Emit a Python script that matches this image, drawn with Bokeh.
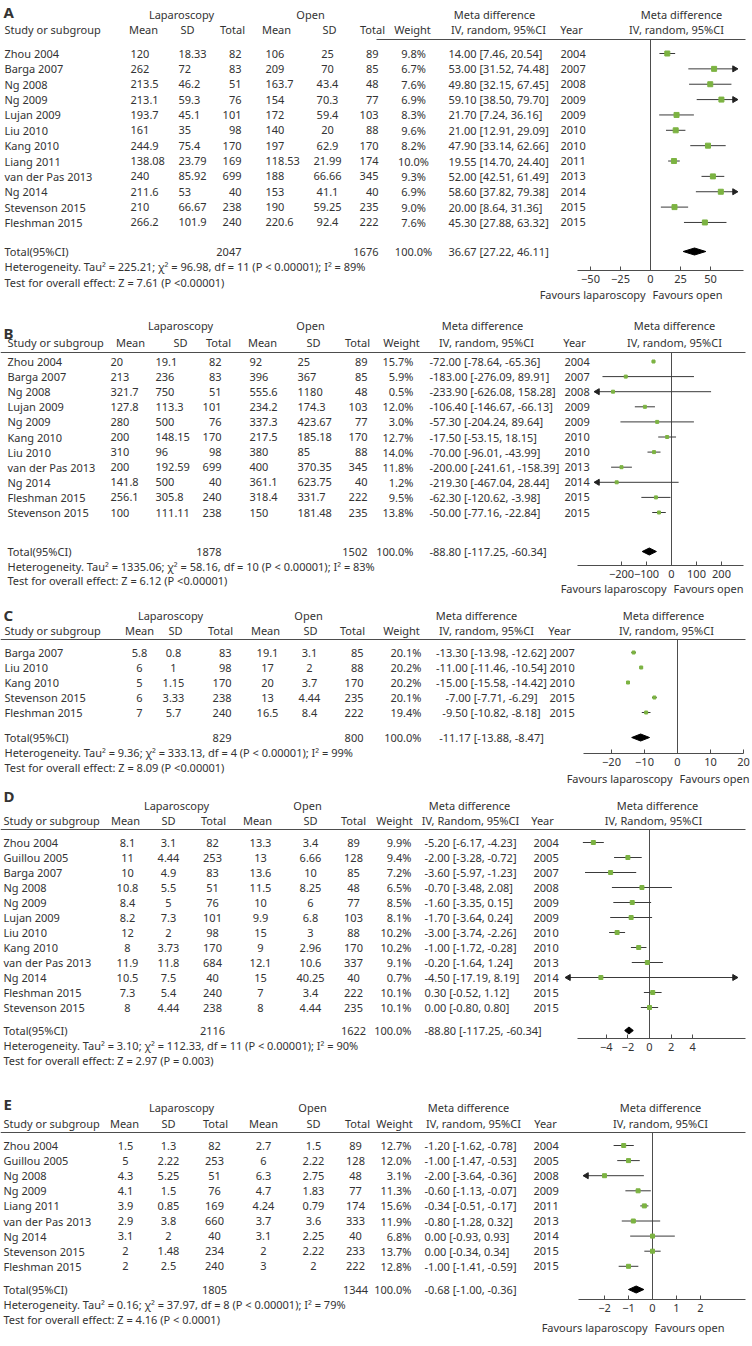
import math
from bokeh.plotting import figure
from bokeh.models import Range1d, LinearAxis, FixedTicker, ColumnDataSource
from bokeh.core.properties import value
from bokeh.embed import file_html
from bokeh.resources import INLINE

# ---------------- data ----------------
A_study = ["Zhou 2004", "Barga 2007", "Ng 2008", "Ng 2009", "Lujan 2009", "Liu 2010", "Kang 2010",
           "Liang 2011", "van der Pas 2013", "Ng 2014", "Stevenson 2015", "Fleshman 2015"]
A_lap_mean = [120, 262, 213.5, 213.1, 193.7, 161, 244.9, 138.08, 240, 211.6, 210, 266.2]
A_lap_sd = [18.33, 72, 46.2, 59.3, 45.1, 35, 75.4, 23.79, 85.92, 53, 66.67, 101.9]
A_lap_n = [82, 83, 51, 76, 101, 98, 170, 169, 699, 40, 238, 240]
A_open_mean = [106, 209, 163.7, 154, 172, 140, 197, 118.53, 188, 153, 190, 220.6]
A_open_sd = [25, 70, 43.4, 70.3, 59.4, 20, 62.9, 21.99, 66.66, 41.1, 59.25, 92.4]
A_open_n = [89, 85, 48, 77, 103, 88, 170, 174, 345, 40, 235, 222]
A_weight = [9.8, 6.7, 7.6, 6.9, 8.3, 9.6, 8.2, 10.0, 9.3, 6.9, 9.0, 7.6]
A_md = [14.00, 53.00, 49.80, 59.10, 21.70, 21.00, 47.90, 19.55, 52.00, 58.60, 20.00, 45.30]
A_lo = [7.46, 31.52, 32.15, 38.50, 7.24, 12.91, 33.14, 14.70, 42.51, 37.82, 8.64, 27.88]
A_hi = [20.54, 74.48, 67.45, 79.70, 36.16, 29.09, 62.66, 24.40, 61.49, 79.38, 31.36, 63.32]
A_year = [2004, 2007, 2008, 2009, 2009, 2010, 2010, 2011, 2013, 2014, 2015, 2015]
A_total_n = [2047, 1676]
A_overall = [36.67, 27.22, 46.11]
A_het = "Heterogeneity. Tau² = 225.21; χ² = 96.98, df = 11 (P < 0.00001); I² = 89%"
A_test = "Test for overall effect: Z = 7.61 (P <0.00001)"
A_ticks = [-50, -25, 0, 25, 50]

B_study = ["Zhou 2004", "Barga 2007", "Ng 2008", "Lujan 2009", "Ng 2009", "Kang 2010", "Liu 2010",
           "van der Pas 2013", "Ng 2014", "Fleshman 2015", "Stevenson 2015"]
B_lap_mean = [20, 213, 321.7, 127.8, 280, 200, 310, 200, 141.8, 256.1, 100]
B_lap_sd = [19.1, 236, 750, 113.3, 500, 148.15, 96, 192.59, 500, 305.8, 111.11]
B_lap_n = [82, 83, 51, 101, 76, 170, 98, 699, 40, 240, 238]
B_open_mean = [92, 396, 555.6, 234.2, 337.3, 217.5, 380, 400, 361.1, 318.4, 150]
B_open_sd = [25, 367, 1180, 174.3, 423.67, 185.18, 85, 370.35, 623.75, 331.7, 181.48]
B_open_n = [89, 85, 48, 103, 77, 170, 88, 345, 40, 222, 235]
B_weight = [15.7, 5.9, 0.5, 12.0, 3.0, 12.7, 14.0, 11.8, 1.2, 9.5, 13.8]
B_md = [-72.00, -183.00, -233.90, -106.40, -57.30, -17.50, -70.00, -200.00, -219.30, -62.30, -50.00]
B_lo = [-78.64, -276.09, -626.08, -146.67, -204.24, -53.15, -96.01, -241.61, -467.04, -120.62, -77.16]
B_hi = [-65.36, 89.91, 158.28, -66.13, 89.64, 18.15, -43.99, -158.39, 28.44, -3.98, -22.84]
B_year = [2004, 2007, 2008, 2009, 2009, 2010, 2010, 2013, 2014, 2015, 2015]
B_total_n = [1878, 1502]
B_overall = [-88.80, -117.25, -60.34]
B_het = "Heterogeneity. Tau² = 1335.06; χ² = 58.16, df = 10 (P < 0.00001); I² = 83%"
B_test = "Test for overall effect: Z = 6.12 (P <0.00001)"
B_ticks = [-200, -100, 0, 100, 200]

C_study = ["Barga 2007", "Liu 2010", "Kang 2010", "Stevenson 2015", "Fleshman 2015"]
C_lap_mean = [5.8, 6, 5, 6, 7]
C_lap_sd = [0.8, 1, 1.15, 3.33, 5.7]
C_lap_n = [83, 98, 170, 238, 240]
C_open_mean = [19.1, 17, 20, 13, 16.5]
C_open_sd = [3.1, 2, 3.7, 4.44, 8.4]
C_open_n = [85, 88, 170, 235, 222]
C_weight = [20.1, 20.2, 20.2, 20.1, 19.4]
C_md = [-13.30, -11.00, -15.00, -7.00, -9.50]
C_lo = [-13.98, -11.46, -15.58, -7.71, -10.82]
C_hi = [-12.62, -10.54, -14.42, -6.29, -8.18]
C_year = [2007, 2010, 2010, 2015, 2015]
C_total_n = [829, 800]
C_overall = [-11.17, -13.88, -8.47]
C_het = "Heterogeneity. Tau² = 9.36; χ² = 333.13, df = 4 (P < 0.00001); I² = 99%"
C_test = "Test for overall effect: Z = 8.09 (P <0.00001)"
C_ticks = [-20, -10, 0, 10, 20]

D_study = ["Zhou 2004", "Guillou 2005", "Barga 2007", "Ng 2008", "Ng 2009", "Lujan 2009", "Liu 2010",
           "Kang 2010", "van der Pas 2013", "Ng 2014", "Fleshman 2015", "Stevenson 2015"]
D_lap_mean = [8.1, 11, 10, 10.8, 8.4, 8.2, 12, 8, 11.9, 10.5, 7.3, 8]
D_lap_sd = [3.1, 4.44, 4.9, 5.5, 5, 7.3, 2, 3.73, 11.8, 7.5, 5.4, 4.44]
D_lap_n = [82, 253, 83, 51, 76, 101, 98, 170, 684, 40, 240, 238]
D_open_mean = [13.3, 13, 13.6, 11.5, 10, 9.9, 15, 9, 12.1, 15, 7, 8]
D_open_sd = [3.4, 6.66, 10, 8.25, 6, 6.8, 3, 2.96, 10.6, 40.25, 3.4, 4.44]
D_open_n = [89, 128, 85, 48, 77, 103, 88, 170, 337, 40, 222, 235]
D_weight = [9.9, 9.4, 7.2, 6.5, 8.5, 8.1, 10.2, 10.2, 9.1, 0.7, 10.1, 10.1]
D_md = [-5.20, -2.00, -3.60, -0.70, -1.60, -1.70, -3.00, -1.00, -0.20, -4.50, 0.30, 0.00]
D_lo = [-6.17, -3.28, -5.97, -3.48, -3.35, -3.64, -3.74, -1.72, -1.64, -17.19, -0.52, -0.80]
D_hi = [-4.23, -0.72, -1.23, 2.08, 0.15, 0.24, -2.26, -0.28, 1.24, 8.19, 1.12, 0.80]
D_year = [2004, 2005, 2007, 2008, 2009, 2009, 2010, 2010, 2013, 2014, 2015, 2015]
D_total_n = [2116, 1622]
D_overall_label = "-88.80 [-117.25, -60.34]"
D_overall = [-1.9, -2.3, -1.5]   # diamond as drawn in the picture
D_het = "Heterogeneity. Tau² = 3.10; χ² = 112.33, df = 11 (P < 0.00001); I² = 90%"
D_test = "Test for overall effect: Z = 2.97 (P = 0.003)"
D_ticks = [-4, -2, 0, 2, 4]

E_study = ["Zhou 2004", "Guillou 2005", "Ng 2008", "Ng 2009", "Liang 2011", "van der Pas 2013",
           "Ng 2014", "Stevenson 2015", "Fleshman 2015"]
E_lap_mean = [1.5, 5, 4.3, 4.1, 3.9, 2.9, 3.1, 2, 2]
E_lap_sd = [1.3, 2.22, 5.25, 1.5, 0.85, 3.8, 2, 1.48, 2.5]
E_lap_n = [82, 253, 51, 76, 169, 660, 40, 234, 240]
E_open_mean = [2.7, 6, 6.3, 4.7, 4.24, 3.7, 3.1, 2, 3]
E_open_sd = [1.5, 2.22, 2.75, 1.83, 0.79, 3.6, 2.25, 2.22, 2]
E_open_n = [89, 128, 48, 77, 174, 333, 40, 233, 222]
E_weight = [12.7, 12.0, 3.1, 11.3, 15.6, 11.9, 6.8, 13.7, 12.8]
E_md = [-1.20, -1.00, -2.00, -0.60, -0.34, -0.80, 0.00, 0.00, -1.00]
E_lo = [-1.62, -1.47, -3.64, -1.13, -0.51, -1.28, -0.93, -0.34, -1.41]
E_hi = [-0.78, -0.53, -0.36, -0.07, -0.17, 0.32, 0.93, 0.34, -0.59]
E_year = [2004, 2005, 2008, 2009, 2011, 2013, 2014, 2015, 2015]
E_total_n = [1805, 1344]
E_overall = [-0.68, -1.00, -0.36]
E_het = "Heterogeneity. Tau² = 0.16; χ² = 37.97, df = 8 (P < 0.00001); I² = 79%"
E_test = "Test for overall effect: Z = 4.16 (P < 0.0001)"
E_ticks = [-2, -1, 0, 1, 2]

DATA = {
    "A": dict(study=A_study, lm=A_lap_mean, ls=A_lap_sd, ln=A_lap_n, om=A_open_mean, os=A_open_sd, on=A_open_n,
              w=A_weight, md=A_md, lo=A_lo, hi=A_hi, year=A_year, tot=A_total_n, ov=A_overall, ovl=None,
              het=A_het, test=A_test, ticks=A_ticks, iv="IV, random, 95%CI"),
    "B": dict(study=B_study, lm=B_lap_mean, ls=B_lap_sd, ln=B_lap_n, om=B_open_mean, os=B_open_sd, on=B_open_n,
              w=B_weight, md=B_md, lo=B_lo, hi=B_hi, year=B_year, tot=B_total_n, ov=B_overall, ovl=None,
              het=B_het, test=B_test, ticks=B_ticks, iv="IV, random, 95%CI"),
    "C": dict(study=C_study, lm=C_lap_mean, ls=C_lap_sd, ln=C_lap_n, om=C_open_mean, os=C_open_sd, on=C_open_n,
              w=C_weight, md=C_md, lo=C_lo, hi=C_hi, year=C_year, tot=C_total_n, ov=C_overall, ovl=None,
              het=C_het, test=C_test, ticks=C_ticks, iv="IV, random, 95%CI"),
    "D": dict(study=D_study, lm=D_lap_mean, ls=D_lap_sd, ln=D_lap_n, om=D_open_mean, os=D_open_sd, on=D_open_n,
              w=D_weight, md=D_md, lo=D_lo, hi=D_hi, year=D_year, tot=D_total_n, ov=D_overall, ovl=D_overall_label,
              het=D_het, test=D_test, ticks=D_ticks, iv="IV, Random, 95%CI"),
    "E": dict(study=E_study, lm=E_lap_mean, ls=E_lap_sd, ln=E_lap_n, om=E_open_mean, os=E_open_sd, on=E_open_n,
              w=E_weight, md=E_md, lo=E_lo, hi=E_hi, year=E_year, tot=E_total_n, ov=E_overall, ovl=None,
              het=E_het, test=E_test, ticks=E_ticks, iv="IV, random, 95%CI"),
}

# ---------------- layout (reference pixel coordinates) ----------------
LAYOUT = {
    "A": dict(letter_y=11, h1_y=14, h2_y=29, line_y=39, line_x0=376, row0=53, dy=15.36, total_y=251,
              het_y=266, test_y=282, axis_y=270, fav_y=294, study_hdr="Study  or subgroup",
              cols=[(4, "left"), (130, "left"), (178, "left"), (241, "right"), (265, "left"), (327, "center"),
                    (378, "right"), (413, "center"), (448, "left"), (560, "left")],
              h1=[181, 310, 494, 681],
              h2=[143, 187, 232, 276, 329, 372, 412, 498, 571, 676],
              forest=(577, 743, 650, 1.2), tips=(585, 734), msize=5),
    "B": dict(letter_y=332, h1_y=325, h2_y=342, line_y=352, line_x0=0, row0=361, dy=15.1, total_y=551,
              het_y=566, test_y=580, axis_y=565, fav_y=588, study_hdr="Study or subgroup",
              cols=[(7, "left"), (110, "left"), (155, "left"), (221, "right"), (249, "left"), (297, "left"),
                    (367, "right"), (413, "right"), (429, "left"), (564, "left")],
              h1=[180, 310, 482, 674],
              h2=[130, 180, 218, 262, 313, 357, 401, 486, 574, 674],
              forest=(577, 743, 671, 0.25), tips=(597, 736), msize=3),
    "C": dict(letter_y=614, h1_y=615, h2_y=630, line_y=639, line_x0=0, row0=652, dy=15.0, total_y=737,
              het_y=752, test_y=767, axis_y=753, fav_y=778, study_hdr="Study  or subgroup",
              cols=[(4, "left"), (139, "center"), (173, "center"), (231, "right"), (267, "center"), (309, "center"),
                    (363, "right"), (421, "right"), (491, "center"), (549, "left")],
              h1=[170, 308, 476, 663],
              h2=[139, 175, 220, 265, 310, 352, 401, 486, 559, 666],
              forest=(583, 743, 677, 3.3), tips=(590, 736), msize=3),
    "D": dict(letter_y=795, h1_y=805, h2_y=820, line_y=829, line_x0=0, row0=842, dy=15.0, total_y=1030,
              het_y=1045, test_y=1060, axis_y=1038, fav_y=None, study_hdr="Study or subgroup",
              cols=[(3, "left"), (127, "center"), (168, "center"), (212, "center"), (260, "center"), (310, "center"),
                    (353, "center"), (411, "right"), (424, "left"), (533, "left")],
              h1=[176, 307, 469, 657],
              h2=[125, 168, 213, 257, 310, 353, 394, 470, 542, 653],
              forest=(577, 745, 649, 10.8), tips=(568, 734), msize=4),
    "E": dict(letter_y=1103, h1_y=1107, h2_y=1123, line_y=1132, line_x0=0, row0=1145, dy=15.1, total_y=1289,
              het_y=1304, test_y=1319, axis_y=1299, fav_y=1327, study_hdr="Study or subgroup",
              cols=[(3, "left"), (125, "center"), (168, "center"), (214, "center"), (263, "center"), (313, "center"),
                    (355, "center"), (411, "right"), (424, "left"), (533, "left")],
              h1=[181, 312, 468, 660],
              h2=[124, 168, 215, 263, 313, 357, 394, 473, 545, 660],
              forest=(578, 745, 652, 24.0), tips=(586, 735), msize=4),
}

FONT = "Noto Sans"
FS = "11px"
TXT = "#333333"
LINE = "#4d4d4d"
GREEN = "#7cb342"

W, H = 752, 1346
X0, X1 = 0, 752
Y0, Y1 = 0, 1346

p = figure(width=W, height=H, x_range=Range1d(X0, X1), y_range=Range1d(Y1, Y0),
           x_axis_type=None, y_axis_type=None, output_backend="svg", toolbar_location=None,
           min_border=0, outline_line_color=None, background_fill_color="white")

texts = {}


def T(x, y, s, align="left", size=FS, bold=False, rn="default"):
    d = texts.setdefault((align, size, bold, rn), dict(x=[], y=[], text=[]))
    d["x"].append(x)
    d["y"].append(y)
    d["text"].append(s)


ranges = {}
for key in ["A", "B", "C", "D", "E"]:
    a, b, zero, sc = LAYOUT[key]["forest"]
    ranges[key] = Range1d((X0 - zero) / sc, (X1 - zero) / sc)
p.extra_x_ranges = ranges

for key in ["A", "B", "C", "D", "E"]:
    L = LAYOUT[key]
    Dd = DATA[key]
    a, b, zero, sc = L["forest"]
    flo, fhi = (a - zero) / sc, (b - zero) / sc

    # headers
    T(3, L["letter_y"], key, size="15px", bold=True)
    for x, s in zip(L["h1"], ["Laparoscopy", "Open", "Meta difference", "Meta difference"]):
        T(x, L["h1_y"], s, align="center")
    T(L["cols"][0][0], L["h2_y"], L["study_hdr"])
    for x, s in zip(L["h2"], ["Mean", "SD", "Total", "Mean", "SD", "Total", "Weight", Dd["iv"], "Year", Dd["iv"]]):
        T(x, L["h2_y"], s, align="center")
    p.segment(x0=[L["line_x0"]], y0=[L["line_y"]], x1=[745], y1=[L["line_y"]], line_color=LINE, line_width=1)

    # rows
    n = len(Dd["study"])
    ys = [L["row0"] + i * L["dy"] for i in range(n)]
    for i in range(n):
        cells = [Dd["study"][i], str(Dd["lm"][i]), str(Dd["ls"][i]), str(Dd["ln"][i]), str(Dd["om"][i]),
                 str(Dd["os"][i]), str(Dd["on"][i]), f"{Dd['w'][i]:.1f}%",
                 f"{Dd['md'][i]:.2f} [{Dd['lo'][i]:.2f}, {Dd['hi'][i]:.2f}]", str(Dd["year"][i])]
        for (x, al), s in zip(L["cols"], cells):
            T(x, ys[i], s, align=al)

    # total row
    ty = L["total_y"]
    T(L["cols"][0][0], ty, "Total(95%CI)")
    T(L["cols"][3][0], ty, str(Dd["tot"][0]), align=L["cols"][3][1])
    T(L["cols"][6][0], ty, str(Dd["tot"][1]), align=L["cols"][6][1])
    T(L["cols"][7][0], ty, "100.0%", align=L["cols"][7][1])
    ov = Dd["ov"]
    ovl = Dd["ovl"] if Dd["ovl"] else f"{ov[0]:.2f} [{ov[1]:.2f}, {ov[2]:.2f}]"
    T(L["cols"][8][0], ty, ovl, align=L["cols"][8][1])
    T(L["cols"][0][0], L["het_y"], Dd["het"])
    T(L["cols"][0][0], L["test_y"], Dd["test"])

    # forest
    cl, ch = (L["tips"][0] - zero) / sc, (L["tips"][1] - zero) / sc
    x0s = [max(v, cl) for v in Dd["lo"]]
    x1s = [min(v, ch) for v in Dd["hi"]]
    p.segment(x0=[0], y0=[L["line_y"]], x1=[0], y1=[L["axis_y"]], line_color=LINE, line_width=1,
              x_range_name=key)
    p.segment(x0=x0s, y0=ys, x1=x1s, y1=ys, line_color="#3a3a3a", line_width=1, x_range_name=key)
    la = [(cl, y) for v, y in zip(Dd["lo"], ys) if v < cl]
    ra = [(ch, y) for v, y in zip(Dd["hi"], ys) if v > ch]
    if la:
        p.scatter(x=[q[0] for q in la], y=[q[1] for q in la], marker="triangle", size=6, angle=math.pi / 2,
                  fill_color="#222222", line_color="#222222", x_range_name=key)
    if ra:
        p.scatter(x=[q[0] for q in ra], y=[q[1] for q in ra], marker="triangle", size=6, angle=-math.pi / 2,
                  fill_color="#222222", line_color="#222222", x_range_name=key)
    p.scatter(x=Dd["md"], y=ys, marker="square", size=L["msize"], fill_color=GREEN, line_color=GREEN,
              x_range_name=key)
    p.patch(x=[ov[1], ov[0], ov[2], ov[0]], y=[ty, ty - 3.5, ty, ty + 3.5], fill_color="black",
            line_color="black", x_range_name=key)

    ax = LinearAxis(x_range_name=key, fixed_location=L["axis_y"], bounds=(flo, fhi),
                    ticker=FixedTicker(ticks=Dd["ticks"]), major_tick_in=4, major_tick_out=0,
                    minor_tick_line_color=None, axis_line_color=LINE, major_tick_line_color=LINE,
                    major_label_text_font=FONT, major_label_text_font_size=FS,
                    major_label_text_color=TXT, major_label_standoff=4)
    p.add_layout(ax, "below")

    if L["fav_y"] is not None:
        T(-5 / sc, L["fav_y"], "Favours laparoscopy", align="right", rn=key)
        T(2 / sc, L["fav_y"], "Favours open", align="left", rn=key)

for (al, size, bold, rn), d in texts.items():
    p.text(x="x", y="y", text="text", source=ColumnDataSource(d), text_align=al, text_baseline="middle",
           text_font=value(FONT), text_font_size=size, text_font_style="bold" if bold else "normal",
           text_color=TXT, x_range_name=rn)

open("out.html", "w").write(file_html(p, INLINE))
